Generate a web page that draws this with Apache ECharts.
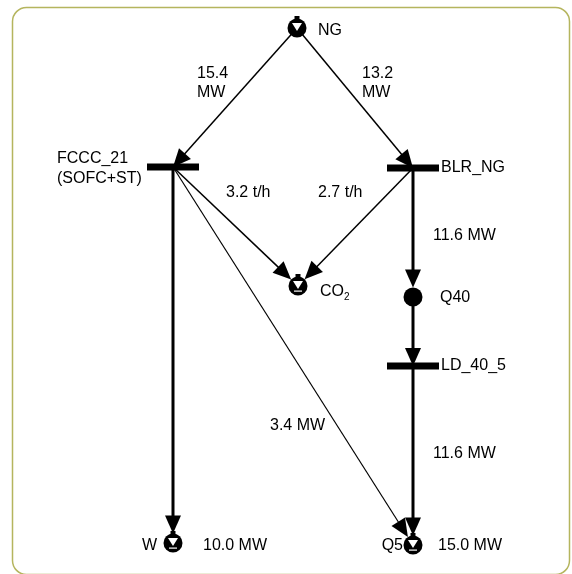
<!DOCTYPE html>
<html>
<head>
<meta charset="utf-8">
<script src="https://cdn.jsdelivr.net/npm/echarts@6/dist/echarts.min.js"></script>
<style>html,body{margin:0;padding:0;background:#fff}#c{width:572px;height:574px}</style>
</head>
<body>
<div id="c"></div>
<script>
// ---- data ----
const nodeNames = ['NG', 'FCCC_21', 'BLR_NG', 'CO2', 'Q40', 'LD_40_5', 'W', 'Q5'];
const nodeKinds = ['source', 'bar', 'bar', 'sink', 'dot', 'bar', 'sink', 'sink'];
const nodeX = [297, 173, 413, 298, 413, 413, 173, 413];
const nodeY = [28, 167, 168, 286, 297, 366, 543, 545];
const nodeTotals = ['', '', '', '', '', '', '10.0 MW', '15.0 MW'];

const edgeFrom = ['NG', 'NG', 'FCCC_21', 'BLR_NG', 'BLR_NG', 'Q40', 'LD_40_5', 'FCCC_21', 'FCCC_21'];
const edgeTo = ['FCCC_21', 'BLR_NG', 'CO2', 'CO2', 'Q40', 'LD_40_5', 'Q5', 'W', 'Q5'];
const edgeValues = ['15.4', '13.2', '3.2', '2.7', '11.6', '', '11.6', '', '3.4'];
const edgeUnits = ['MW', 'MW', 't/h', 't/h', 'MW', '', 'MW', '', 'MW'];

// ---- layout / style ----
const FONT = '"Liberation Sans", Arial, sans-serif';
const FS = 16;
const edgeWidth = [1.5, 1.5, 1.5, 1.5, 3, 3, 3, 3, 1.2];
const edgeLabelPos = [[197, 64], [362, 64], [226, 183], [318, 183], [433, 226], null, [433, 444], null, [270, 416]];
const edgeLabelStack = [true, true, false, false, false, false, false, false, false];
const nodeLabelPos = [[318, 31, 'left'], [57, 169, 'left'], [441, 168, 'left'], [320, 292, 'left'],
                      [440, 298, 'left'], [441, 366, 'left'], [157, 546, 'right'], [403, 546, 'right']];
const nodeTotalPos = [null, null, null, null, null, null, [203, 546], [438, 546]];

function idx(n) { return nodeNames.indexOf(n); }
function targetInset(n) {
  const k = nodeKinds[idx(n)];
  return k === 'bar' ? 0 : 9.5;
}

function renderEdge(params, api) {
  const i = params.dataIndex;
  const a = api.coord([api.value(0), api.value(1)]);
  const b = api.coord([api.value(2), api.value(3)]);
  const dx = b[0] - a[0], dy = b[1] - a[1];
  const len = Math.hypot(dx, dy);
  const ux = dx / len, uy = dy / len;
  const inset = targetInset(edgeTo[i]);
  const tip = [b[0] - ux * inset, b[1] - uy * inset];
  const L = 18, W = 16;
  const base = [tip[0] - ux * L, tip[1] - uy * L];
  const nx = -uy, ny = ux;
  const children = [
    { type: 'line', shape: { x1: a[0], y1: a[1], x2: base[0] + ux * 2, y2: base[1] + uy * 2 },
      style: { stroke: '#000', lineWidth: edgeWidth[i] } },
    { type: 'polygon', shape: { points: [tip, [base[0] + nx * W / 2, base[1] + ny * W / 2], [base[0] - nx * W / 2, base[1] - ny * W / 2]] },
      style: { fill: '#000' } }
  ];
  const lp = edgeLabelPos[i];
  if (lp && edgeValues[i]) {
    const c = api.coord(lp);
    const txt = edgeLabelStack[i] ? edgeValues[i] + '\n' + edgeUnits[i] : edgeValues[i] + ' ' + edgeUnits[i];
    children.push({ type: 'text', x: c[0], y: c[1],
      style: { text: txt, fill: '#000', font: FS + 'px ' + FONT, lineHeight: 19, verticalAlign: 'top', align: 'left' } });
  }
  return { type: 'group', children };
}

function renderNode(params, api) {
  const i = params.dataIndex;
  const p = api.coord([api.value(0), api.value(1)]);
  const kind = nodeKinds[i];
  const ch = [];
  if (kind === 'bar') {
    ch.push({ type: 'rect', shape: { x: p[0] - 26, y: p[1] - 3.5, width: 52, height: 7 }, style: { fill: '#000' } });
  } else if (kind === 'dot') {
    ch.push({ type: 'circle', shape: { cx: p[0], cy: p[1], r: 9.5 }, style: { fill: '#000' } });
  } else {
    ch.push({ type: 'rect', shape: { x: p[0] - 2.5, y: p[1] - 12, width: 5, height: 5 }, style: { fill: '#000' } });
    ch.push({ type: 'circle', shape: { cx: p[0], cy: p[1], r: 9.5 }, style: { fill: '#000' } });
    ch.push({ type: 'polygon', shape: { points: [[p[0] - 5, p[1] - 5], [p[0] + 5, p[1] - 5], [p[0], p[1] + 3]] }, style: { fill: '#fff' } });
    if (kind === 'sink') {
      ch.push({ type: 'rect', shape: { x: p[0] - 4, y: p[1] + 4.5, width: 8, height: 1.2 }, style: { fill: '#fff' } });
    }
  }
  const lp = nodeLabelPos[i];
  const c = api.coord([lp[0], lp[1]]);
  if (nodeNames[i] === 'CO2') {
    ch.push({ type: 'text', x: c[0], y: c[1], style: { text: 'CO', fill: '#000', font: FS + 'px ' + FONT, verticalAlign: 'middle', align: 'left' } });
    ch.push({ type: 'text', x: c[0] + 24, y: c[1] + 5, style: { text: '2', fill: '#000', font: '10px ' + FONT, verticalAlign: 'middle', align: 'left' } });
  } else if (nodeNames[i] === 'FCCC_21') {
    ch.push({ type: 'text', x: c[0], y: c[1], style: { text: 'FCCC_21\n(SOFC+ST)', fill: '#000', font: FS + 'px ' + FONT, lineHeight: 20, verticalAlign: 'middle', align: 'left' } });
  } else {
    ch.push({ type: 'text', x: c[0], y: c[1], style: { text: nodeNames[i], fill: '#000', font: FS + 'px ' + FONT, verticalAlign: 'middle', align: lp[2] } });
  }
  const tp = nodeTotalPos[i];
  if (tp && nodeTotals[i]) {
    const t = api.coord(tp);
    ch.push({ type: 'text', x: t[0], y: t[1], style: { text: nodeTotals[i], fill: '#000', font: FS + 'px ' + FONT, verticalAlign: 'middle', align: 'left' } });
  }
  return { type: 'group', children: ch };
}

const edgeData = edgeFrom.map((f, i) => {
  const a = idx(f), b = idx(edgeTo[i]);
  return [nodeX[a], nodeY[a], nodeX[b], nodeY[b]];
});
const nodeData = nodeNames.map((n, i) => [nodeX[i], nodeY[i]]);

const chart = echarts.init(document.getElementById('c'), null, { renderer: 'canvas' });
chart.setOption({
  animation: false,
  backgroundColor: '#fff',
  grid: { left: 0, right: 0, top: 0, bottom: 0 },
  xAxis: { type: 'value', min: 0, max: 572, show: false },
  yAxis: { type: 'value', min: 0, max: 574, inverse: true, show: false },
  graphic: [{
    type: 'rect', left: 10, top: 5, z: 0,
    shape: { width: 557, height: 567, r: 14 },
    style: { fill: 'none', stroke: '#b5b55e', lineWidth: 1.5 }
  }],
  series: [
    { type: 'custom', renderItem: renderEdge, data: edgeData, z: 2, clip: false },
    { type: 'custom', renderItem: renderNode, data: nodeData, z: 3, clip: false }
  ]
});
</script>
</body>
</html>
